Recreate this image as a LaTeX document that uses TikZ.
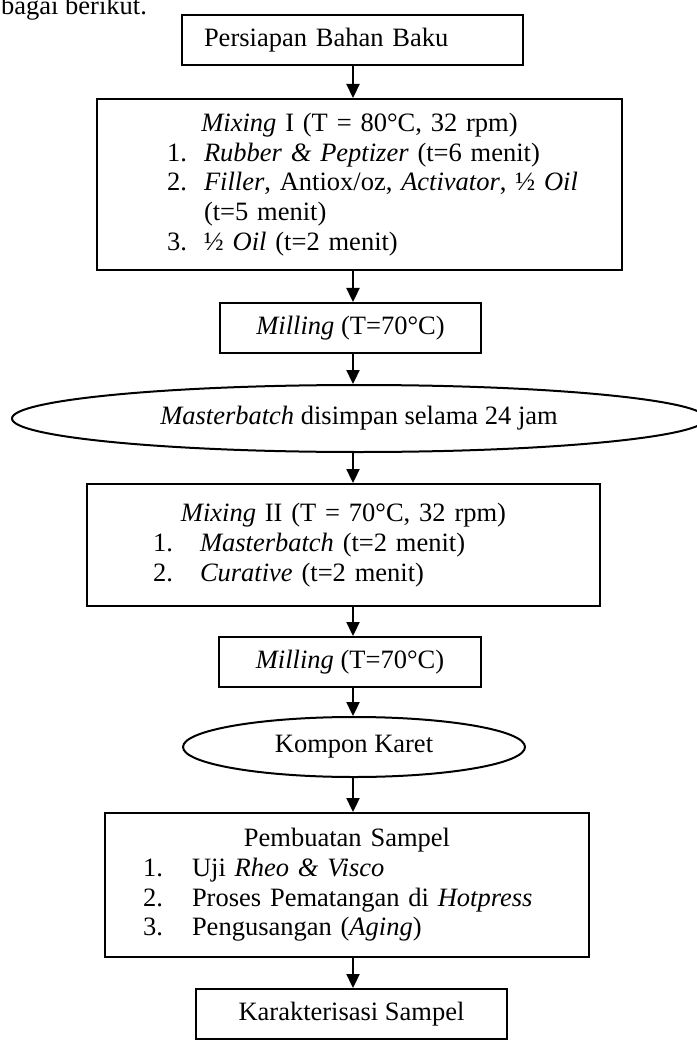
\documentclass[tikz,border=0pt]{standalone}
\usepackage{fontspec}
\setmainfont{Liberation Serif}
\usetikzlibrary{shapes.geometric,arrows.meta}
\setlength\parindent{0pt}
\newcommand\lin[2]{\hspace*{#1}#2\par}
\newcommand\ctl[1]{\makebox[\hsize][c]{#1}\par}
\begin{document}
\begin{tikzpicture}[x=1pt,y=-1pt,
  font=\fontsize{26.5}{29.7}\selectfont,
  box/.style={draw,line width=2pt,rectangle,inner sep=0pt,align=left},
  oval/.style={draw,line width=2pt,ellipse,inner sep=0pt},
  arr/.style={line width=2.3pt,-{Triangle[width=13pt,length=14pt]}}]
\useasboundingbox (0,0) rectangle (696,1040);
\coordinate (ax) at (353,0);
\node[anchor=base west,inner sep=0pt] (intro) at (1,15) {bagai berikut.};
\node[box,minimum width=341pt,minimum height=50pt,text width=341pt] (b1) at (352.5,40)
  {\lin{22pt}{Persiapan Bahan Baku}};
\node[box,minimum width=525pt,minimum height=171pt,text width=525pt] (b2) at (359.5,184.5) {%
\ctl{\textit{Mixing} I (T = 80°C, 32 rpm)}%
\lin{70pt}{\makebox[37pt][l]{1.}\textit{Rubber \& Peptizer} (t=6 menit)}%
\lin{70pt}{\makebox[37pt][l]{2.}\textit{Filler}, Antiox/oz, \textit{Activator}, ½ \textit{Oil}}%
\lin{107pt}{(t=5 menit)}%
\lin{70pt}{\makebox[37pt][l]{3.}½ \textit{Oil} (t=2 menit)}};
\node[box,minimum width=261pt,minimum height=50pt,align=center] (m1) at (350.5,328)
  {\textit{Milling} (T=70°C)};
\node[oval,minimum width=694pt,minimum height=67pt] (e1) at (359,418.5)
  {\textit{Masterbatch} disimpan selama 24 jam};
\node[box,minimum width=513pt,minimum height=122pt,text width=513pt] (b4) at (343.5,545) {%
\ctl{\textit{Mixing} II (T = 70°C, 32 rpm)}%
\lin{66pt}{\makebox[47pt][l]{1.}\textit{Masterbatch} (t=2 menit)}%
\lin{66pt}{\makebox[47pt][l]{2.}\textit{Curative} (t=2 menit)}};
\node[box,minimum width=262pt,minimum height=50pt,align=center] (m2) at (350,662)
  {\textit{Milling} (T=70°C)};
\node[oval,minimum width=342pt,minimum height=60pt] (e2) at (354,747) {Kompon Karet};
\node[box,minimum width=484pt,minimum height=144pt,text width=484pt] (b6) at (347,885) {%
\ctl{Pembuatan Sampel}%
\lin{38pt}{\makebox[49pt][l]{1.}Uji \textit{Rheo \& Visco}}%
\lin{38pt}{\makebox[49pt][l]{2.}Proses Pematangan di \textit{Hotpress}}%
\lin{38pt}{\makebox[49pt][l]{3.}Pengusangan (\textit{Aging})}};
\node[box,minimum width=311pt,minimum height=50pt,align=center] (b7) at (351.5,1014)
  {Karakterisasi Sampel};
\draw[arr] (b1.south -| ax) -- (b2.north -| ax);
\draw[arr] (b2.south -| ax) -- (m1.north -| ax);
\draw[arr] (m1.south -| ax) -- (e1.north -| ax);
\draw[arr] (e1.south -| ax) -- (b4.north -| ax);
\draw[arr] (b4.south -| ax) -- (m2.north -| ax);
\draw[arr] (m2.south -| ax) -- (e2.north -| ax);
\draw[arr] (e2.south -| ax) -- (b6.north -| ax);
\draw[arr] (b6.south -| ax) -- (b7.north -| ax);
\end{tikzpicture}
\end{document}
